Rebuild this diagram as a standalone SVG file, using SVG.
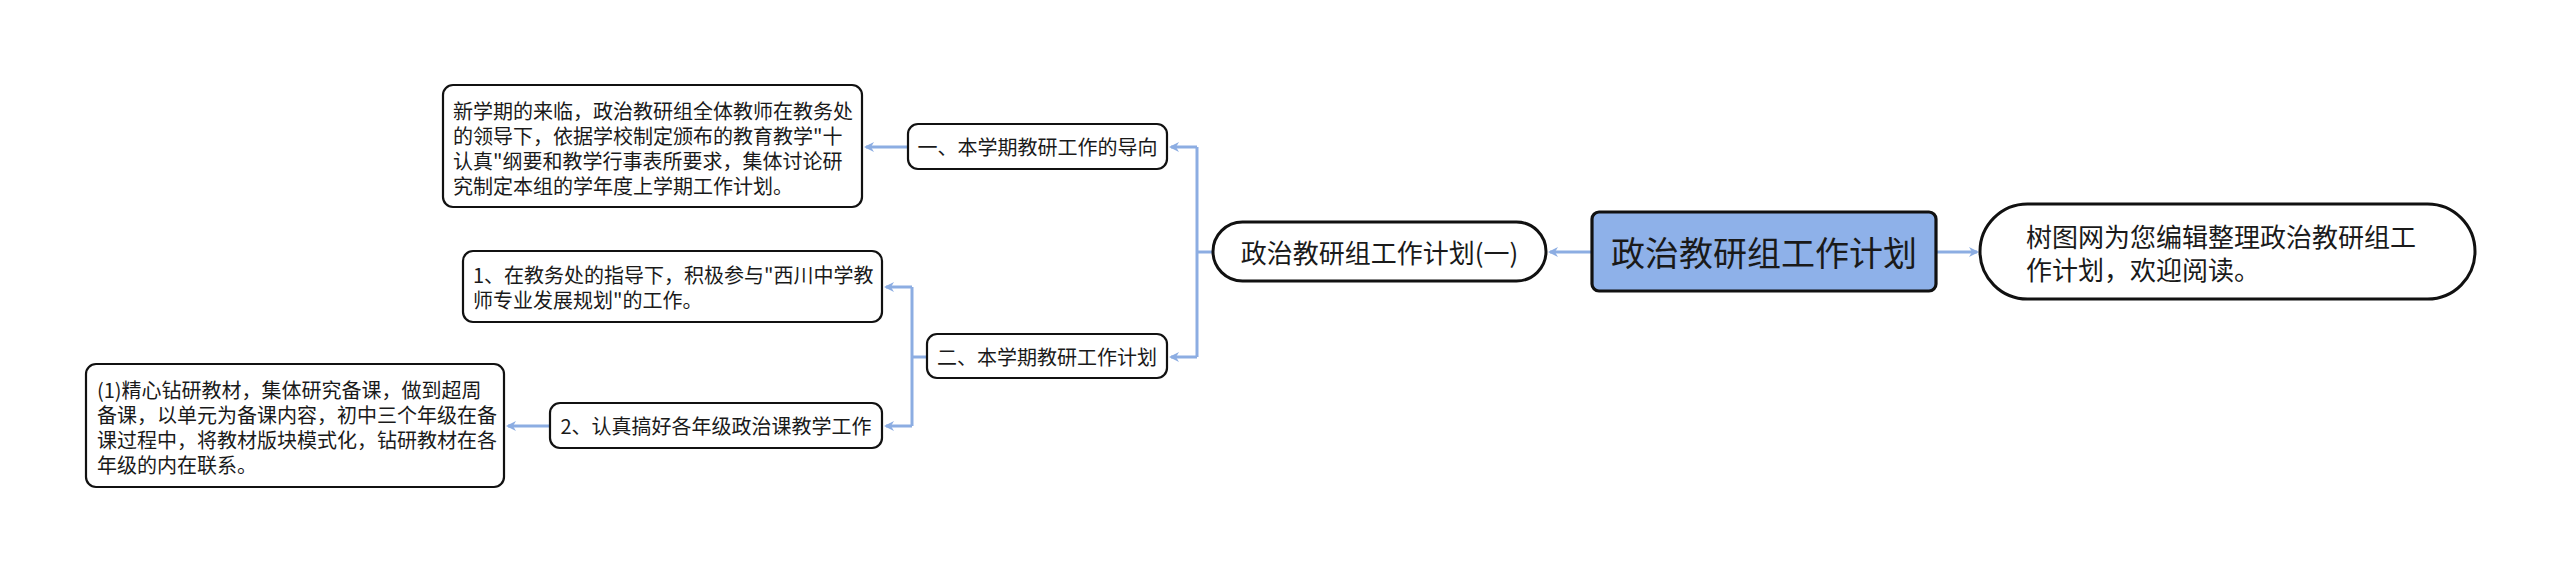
<svg xmlns="http://www.w3.org/2000/svg" width="2560" height="573" viewBox="0 0 2560 573">
<defs>
<style>
text{font-family:"Noto Sans CJK SC","Noto Sans",sans-serif;fill:#1a1a1a;dominant-baseline:central}
.box{fill:#fff;stroke:#111;stroke-width:2.2}
.pill{fill:#fff;stroke:#111;stroke-width:3}
.root{fill:#8eb1e9;stroke:#111;stroke-width:3.2}
.s20{font-size:20px}
.s26{font-size:26px}
.s34{font-size:34px}
.c{fill:none;stroke:#8cade2;stroke-width:3}
</style>
<marker id="ar" markerWidth="10" markerHeight="10" refX="8" refY="5" orient="auto" markerUnits="userSpaceOnUse">
<path d="M0,0 L10,5 L0,10 L3,5 Z" fill="#8cade2"/>
</marker>
</defs>
<rect width="2560" height="573" fill="#fff"/>
<g id="connectors">
<path class="c" d="M1936,252 L1977,252" marker-end="url(#ar)"/>
<path class="c" d="M1592,252 L1550,252" marker-end="url(#ar)"/>
<path class="c" d="M1213,252 L1197,252"/>
<path class="c" d="M1197,147 L1197,357"/>
<path class="c" d="M1197,147 L1171,147" marker-end="url(#ar)"/>
<path class="c" d="M1197,357 L1171,357" marker-end="url(#ar)"/>
<path class="c" d="M908,147 L866,147" marker-end="url(#ar)"/>
<path class="c" d="M927,357 L912,357"/>
<path class="c" d="M912,287 L912,426"/>
<path class="c" d="M912,287 L886,287" marker-end="url(#ar)"/>
<path class="c" d="M912,426 L886,426" marker-end="url(#ar)"/>
<path class="c" d="M550,426 L508,426" marker-end="url(#ar)"/>
</g>
<g id="root">
<rect class="root" x="1592" y="212" width="344" height="79" rx="7"/>
<text class="s34" x="1764" y="251.5" text-anchor="middle">政治教研组工作计划</text>
</g>
<g id="intro">
<rect class="pill" x="1980" y="204" width="495" height="95" rx="47.5"/>
<text class="s26" x="2026" y="235">树图网为您编辑整理政治教研组工</text>
<text class="s26" x="2026" y="268">作计划，欢迎阅读。</text>
</g>
<g id="plan1">
<rect class="pill" x="1213" y="222" width="333" height="59" rx="29.5"/>
<text class="s26" x="1379.5" y="251.5" text-anchor="middle">政治教研组工作计划(一)</text>
</g>
<g id="sec1">
<rect class="box" x="908" y="124" width="259" height="45" rx="10"/>
<text class="s20" x="1037.5" y="146.5" text-anchor="middle">一、本学期教研工作的导向</text>
</g>
<g id="sec1-text">
<rect class="box" x="443" y="85" width="419" height="122" rx="10"/>
<text class="s20" x="453" y="110">新学期的来临，政治教研组全体教师在教务处</text>
<text class="s20" x="453" y="135">的领导下，依据学校制定颁布的教育教学"十</text>
<text class="s20" x="453" y="160">认真"纲要和教学行事表所要求，集体讨论研</text>
<text class="s20" x="453" y="185">究制定本组的学年度上学期工作计划。</text>
</g>
<g id="sec2">
<rect class="box" x="927" y="334" width="240" height="44" rx="10"/>
<text class="s20" x="1047" y="356" text-anchor="middle">二、本学期教研工作计划</text>
</g>
<g id="item1">
<rect class="box" x="463" y="251" width="419" height="71" rx="10"/>
<text class="s20" x="473" y="274.5">1、在教务处的指导下，积极参与"西川中学教</text>
<text class="s20" x="473" y="299.5">师专业发展规划"的工作。</text>
</g>
<g id="item2">
<rect class="box" x="550" y="403" width="332" height="45" rx="10"/>
<text class="s20" x="716" y="425.5" text-anchor="middle">2、认真搞好各年级政治课教学工作</text>
</g>
<g id="item2-text">
<rect class="box" x="86" y="364" width="418" height="123" rx="10"/>
<text class="s20" x="97" y="389">(1)精心钻研教材，集体研究备课，做到超周</text>
<text class="s20" x="97" y="414">备课，以单元为备课内容，初中三个年级在备</text>
<text class="s20" x="97" y="439">课过程中，将教材版块模式化，钻研教材在各</text>
<text class="s20" x="97" y="464">年级的内在联系。</text>
</g>
</svg>
